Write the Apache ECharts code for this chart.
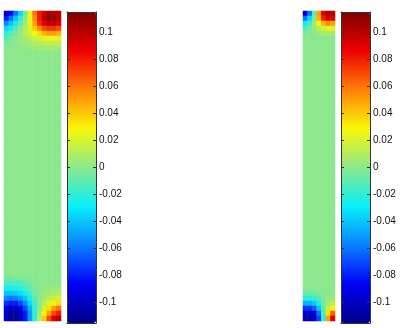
<!DOCTYPE html>
<html>
<head>
<meta charset="utf-8">
<script src="https://cdn.jsdelivr.net/npm/echarts@6/dist/echarts.min.js"></script>
<style>
  html, body { margin: 0; padding: 0; background: #fff; }
  #chart { width: 405px; height: 328px; }
</style>
</head>
<body>
<div id="chart"></div>
<script>
// --- data ---
const ROWS = 62;                 // rows of cells, top to bottom
const LEFT_COLS = 12;
const RIGHT_COLS = 7;
const BASE_VALUE = 0;            // the middle of both fields sits at 0

// left field: first rows from the top
const leftTop = [
    [-0.1, -0.085, -0.06, -0.035, -0.005, 0.03, 0.06, 0.08, 0.095, 0.105, 0.105, 0.1],
    [-0.08, -0.06, -0.04, -0.02, 0.0, 0.025, 0.055, 0.08, 0.1, 0.11, 0.11, 0.1],
    [-0.055, -0.04, -0.025, -0.01, 0.005, 0.025, 0.05, 0.075, 0.09, 0.1, 0.1, 0.09],
    [-0.035, -0.025, -0.012, 0.0, 0.01, 0.022, 0.04, 0.055, 0.07, 0.075, 0.075, 0.07],
    [-0.02, -0.012, -0.005, 0.003, 0.01, 0.018, 0.028, 0.035, 0.045, 0.05, 0.05, 0.045],
    [-0.01, -0.005, 0.0, 0.004, 0.008, 0.012, 0.016, 0.02, 0.024, 0.026, 0.026, 0.024],
    [-0.005, -0.002, 0, 0.002, 0.005, 0.007, 0.009, 0.011, 0.013, 0.014, 0.014, 0.013],
    [0, 0, 0, 0, 0.002, 0.003, 0.004, 0.005, 0.006, 0.006, 0.006, 0.005]
];
// left field: last rows, ending with the bottom row
const leftBottom = [
    [-0.006, -0.006, -0.005, -0.004, -0.003, -0.002, -0.001, 0, 0, 0, 0, 0],
    [-0.014, -0.014, -0.013, -0.011, -0.008, -0.005, -0.002, 0, 0, 0, 0, 0],
    [-0.025, -0.025, -0.024, -0.02, -0.015, -0.01, -0.004, 0, 0.001, 0.002, 0.003, 0.004],
    [-0.04, -0.04, -0.038, -0.033, -0.025, -0.016, -0.007, 0, 0.003, 0.006, 0.008, 0.01],
    [-0.055, -0.06, -0.058, -0.05, -0.04, -0.025, -0.01, 0, 0.006, 0.012, 0.016, 0.02],
    [-0.075, -0.08, -0.08, -0.07, -0.055, -0.035, -0.015, 0.0, 0.012, 0.022, 0.03, 0.035],
    [-0.09, -0.1, -0.1, -0.09, -0.07, -0.045, -0.02, 0.0, 0.02, 0.035, 0.05, 0.06],
    [-0.1, -0.11, -0.11, -0.1, -0.08, -0.05, -0.02, 0.005, 0.03, 0.05, 0.07, 0.08],
    [-0.1, -0.11, -0.11, -0.1, -0.08, -0.05, -0.02, 0.01, 0.04, 0.07, 0.09, 0.1]
];
// right (narrow) field
const rightTop = [
    [-0.1, -0.06, -0.01, 0.05, 0.09, 0.105, 0.1],
    [-0.06, -0.035, 0.0, 0.045, 0.08, 0.095, 0.09],
    [-0.03, -0.015, 0.005, 0.028, 0.045, 0.055, 0.05],
    [-0.012, -0.005, 0.003, 0.012, 0.02, 0.024, 0.022],
    [-0.004, -0.001, 0.001, 0.004, 0.007, 0.008, 0.007]
];
const rightBottom = [
    [-0.008, -0.008, -0.006, -0.004, -0.001, 0, 0],
    [-0.022, -0.022, -0.018, -0.012, -0.003, 0.002, 0.004],
    [-0.045, -0.045, -0.038, -0.024, -0.006, 0.006, 0.012],
    [-0.075, -0.075, -0.065, -0.04, -0.01, 0.015, 0.03],
    [-0.1, -0.1, -0.09, -0.06, -0.015, 0.035, 0.065],
    [-0.1, -0.11, -0.1, -0.07, -0.02, 0.05, 0.09]
];

const colorMin = -0.115;
const colorMax = 0.115;
const tickValues = [0.1, 0.08, 0.06, 0.04, 0.02, 0, -0.02, -0.04, -0.06, -0.08, -0.1];
const tickLabels = ['0.1', '0.08', '0.06', '0.04', '0.02', '0', '-0.02', '-0.04', '-0.06', '-0.08', '-0.1'];

// jet, with the middle green a bit paler like the picture
const jet = ['#00008c', '#0000f5', '#0a80ff', '#08f0f8', '#8ce88c', '#f8f808', '#ff8008', '#f00000', '#800000'];

// --- build the cell list for one field ---
function buildField(top, bottom, cols) {
    const cells = [];
    for (let r = 0; r < ROWS; r++) {
        let row = null;
        if (r < top.length) row = top[r];
        else if (r >= ROWS - bottom.length) row = bottom[r - (ROWS - bottom.length)];
        for (let c = 0; c < cols; c++) {
            cells.push([c, r, row ? row[c] : BASE_VALUE]);
        }
    }
    return cells;
}

function range(n) {
    return Array.from({ length: n }, (_, i) => i);
}

const chart = echarts.init(document.getElementById('chart'));

const boxes = {
    leftField:  { left: 4,   top: 11, width: 57, height: 310 },
    leftBar:    { left: 67,  top: 12, width: 29, height: 311 },
    rightField: { left: 303, top: 11, width: 32, height: 310 },
    rightBar:   { left: 341, top: 12, width: 29, height: 311 }
};

function fieldAxes(gridIndex, cols) {
    return {
        x: { type: 'category', gridIndex: gridIndex, data: range(cols), show: false },
        y: { type: 'category', gridIndex: gridIndex, data: range(ROWS), inverse: true, show: false }
    };
}

// frame + ticks over a colour bar
function barAxes(gridIndex) {
    const lineStyle = { color: '#333', width: 1 };
    return {
        x: [
            { type: 'value', gridIndex: gridIndex, position: 'bottom', min: 0, max: 1, z: 10,
              axisLine: { show: true, onZero: false, lineStyle: lineStyle }, axisTick: { show: false },
              axisLabel: { show: false }, splitLine: { show: false } },
            { type: 'value', gridIndex: gridIndex, position: 'top', min: 0, max: 1, z: 10,
              axisLine: { show: true, onZero: false, lineStyle: lineStyle }, axisTick: { show: false },
              axisLabel: { show: false }, splitLine: { show: false } }
        ],
        y: [
            { type: 'value', gridIndex: gridIndex, position: 'right', min: colorMin, max: colorMax, z: 10,
              axisLine: { show: true, onZero: false, lineStyle: lineStyle },
              axisTick: { show: true, inside: true, length: 3, customValues: tickValues, lineStyle: lineStyle },
              axisLabel: {
                  show: true, customValues: tickValues, margin: 3,
                  formatter: v => tickLabels[tickValues.findIndex(t => Math.abs(t - v) < 1e-9)],
                  color: '#111', fontSize: 10, fontFamily: 'Liberation Sans'
              },
              splitLine: { show: false } },
            { type: 'value', gridIndex: gridIndex, position: 'left', min: colorMin, max: colorMax, z: 10,
              axisLine: { show: true, onZero: false, lineStyle: lineStyle },
              axisTick: { show: true, inside: true, length: 3, customValues: tickValues, lineStyle: lineStyle },
              axisLabel: { show: false }, splitLine: { show: false } }
        ]
    };
}

const la = fieldAxes(0, LEFT_COLS);
const ra = fieldAxes(1, RIGHT_COLS);
const lb = barAxes(2);
const rb = barAxes(3);

function colourBar(seriesIndex, box) {
    return {
        type: 'continuous',
        seriesIndex: seriesIndex,
        min: colorMin,
        max: colorMax,
        calculable: false,
        hoverLink: false,
        left: box.left,
        top: box.top,
        itemWidth: box.width,
        itemHeight: box.height,
        padding: 0,
        inRange: { color: jet }
    };
}

const option = {
    animation: false,
    grid: [boxes.leftField, boxes.rightField, boxes.leftBar, boxes.rightBar],
    xAxis: [la.x, ra.x].concat(lb.x, rb.x),
    yAxis: [la.y, ra.y].concat(lb.y, rb.y),
    visualMap: [colourBar(0, boxes.leftBar), colourBar(1, boxes.rightBar)],
    series: [
        { type: 'heatmap', xAxisIndex: 0, yAxisIndex: 0, data: buildField(leftTop, leftBottom, LEFT_COLS) },
        { type: 'heatmap', xAxisIndex: 1, yAxisIndex: 1, data: buildField(rightTop, rightBottom, RIGHT_COLS) }
    ]
};

chart.setOption(option);
</script>
</body>
</html>
